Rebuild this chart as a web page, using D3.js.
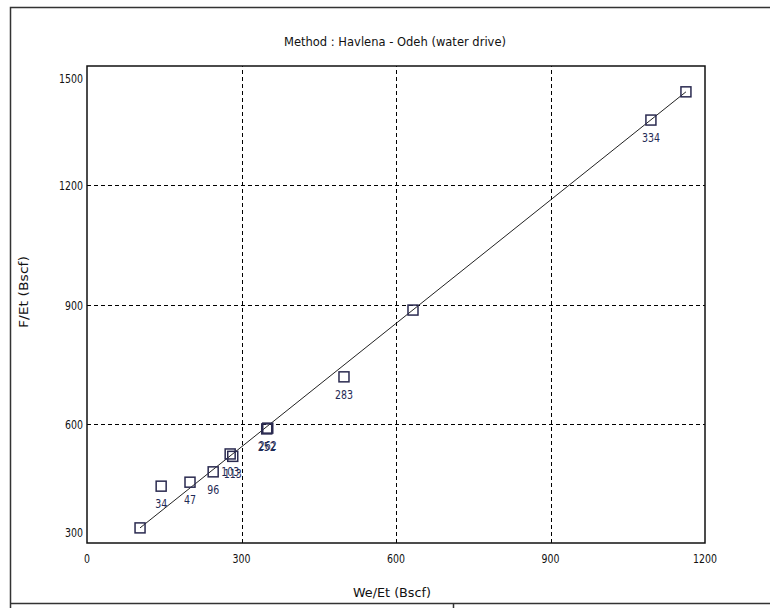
<!DOCTYPE html>
<html>
<head>
<meta charset="utf-8">
<script src="https://cdn.jsdelivr.net/npm/d3@7"></script>
<style>
  body { margin: 0; background: #fff; }
  svg { display: block; }
  text { font-family: "DejaVu Sans", sans-serif; font-size: 13px; fill: #111; }
</style>
</head>
<body>
<svg width="770" height="608"></svg>
<script>
// values (We/Et, F/Et in Bscf)
var xVals = [103, 144, 200, 245, 278, 283, 349, 351, 499, 633, 1095, 1163];
var yVals = [338, 443, 453, 479, 524, 518, 587, 589, 718, 886, 1364, 1435];
var pointLabels = ['', '34', '47', '96', '103', '113', '252', '262', '283', '', '334', ''];

// straight line through the points
var fitX = [103, 1163];
var fitY = [338, 1435];

var xTicks = [0, 300, 600, 900, 1200];
var yTicks = [300, 600, 900, 1200, 1500];

var title = 'Method : Havlena - Odeh (water drive)';
var xTitle = 'We/Et  (Bscf)';
var yTitle = 'F/Et  (Bscf)';

var plot = {left: 87, right: 705, top: 66, bottom: 543};
var charW = 6; // the old screen font is about 6px a character

var svg = d3.select('svg');

var x = d3.scaleLinear().domain([0, 1200]).range([plot.left, plot.right]);
var y = d3.scaleLinear().domain([300, 1500]).range([plot.bottom, plot.top]);

function narrow(sel) {
	sel.attr('textLength', function() { return this.textContent.length * charW; })
		.attr('lengthAdjust', 'spacingAndGlyphs');
}

// outer window frame
svg.append('path')
	.attr('d', 'M10.5,608 V7.5 H770')
	.attr('fill', 'none').attr('stroke', '#333').attr('stroke-width', 1.5);
svg.append('path')
	.attr('d', 'M10,603.5 H770 M453.5,603 V608')
	.attr('fill', 'none').attr('stroke', '#333').attr('stroke-width', 1.5);

// title
svg.append('text')
	.attr('x', 395).attr('y', 46)
	.attr('text-anchor', 'middle')
	.text(title)
	.call(narrow);

// grid
var grid = svg.append('g')
	.attr('stroke', '#000').attr('stroke-width', 1).attr('stroke-dasharray', '4,3');
grid.selectAll('line.gx')
	.data(xTicks.slice(1, -1))
	.enter().append('line')
	.attr('x1', function(d) { return Math.round(x(d)) + 0.5; })
	.attr('x2', function(d) { return Math.round(x(d)) + 0.5; })
	.attr('y1', plot.bottom).attr('y2', plot.top);
grid.selectAll('line.gy')
	.data(yTicks.slice(1, -1))
	.enter().append('line')
	.attr('y1', function(d) { return Math.round(y(d)) + 0.5; })
	.attr('y2', function(d) { return Math.round(y(d)) + 0.5; })
	.attr('x1', plot.left).attr('x2', plot.right);

// plot frame
svg.append('rect')
	.attr('x', plot.left).attr('y', plot.top)
	.attr('width', plot.right - plot.left).attr('height', plot.bottom - plot.top)
	.attr('fill', 'none').attr('stroke', '#111').attr('stroke-width', 1.5);

// tick labels
svg.selectAll('text.xt')
	.data(xTicks)
	.enter().append('text')
	.attr('class', 'xt')
	.attr('x', function(d) { return x(d); })
	.attr('y', plot.bottom + 20)
	.attr('text-anchor', 'middle')
	.text(function(d) { return d; })
	.call(narrow);

// end labels are pushed inside the axis like the old chart does
svg.selectAll('text.yt')
	.data(yTicks)
	.enter().append('text')
	.attr('class', 'yt')
	.attr('x', plot.left - 4)
	.attr('y', function(d) {
		var cy = Math.max(plot.top + 12, Math.min(plot.bottom - 11, y(d)));
		return cy + 5;
	})
	.attr('text-anchor', 'end')
	.text(function(d) { return d; })
	.call(narrow);

// axis titles
svg.append('text')
	.attr('x', 392).attr('y', 597)
	.attr('text-anchor', 'middle')
	.text(xTitle)
	.call(narrow);
svg.append('text')
	.attr('transform', 'translate(28,292) rotate(-90)')
	.attr('text-anchor', 'middle')
	.text(yTitle)
	.call(narrow);

// fitted line
svg.append('line')
	.attr('x1', x(fitX[0])).attr('y1', y(fitY[0]))
	.attr('x2', x(fitX[1])).attr('y2', y(fitY[1]))
	.attr('stroke', '#222').attr('stroke-width', 1);

var points = xVals.map(function(v, i) { return {x: v, y: yVals[i], label: pointLabels[i]}; });

svg.selectAll('rect.pt')
	.data(points)
	.enter().append('rect')
	.attr('class', 'pt')
	.attr('x', function(d) { return x(d.x) - 5; })
	.attr('y', function(d) { return y(d.y) - 5; })
	.attr('width', 10).attr('height', 10)
	.attr('fill', 'none')
	.attr('stroke', '#2a2a50').attr('stroke-width', 1.5);

svg.selectAll('text.pl')
	.data(points.filter(function(d) { return d.label; }))
	.enter().append('text')
	.attr('class', 'pl')
	.attr('x', function(d) { return x(d.x); })
	.attr('y', function(d) { return y(d.y) + 22; })
	.attr('text-anchor', 'middle')
	.style('fill', '#1f2a55')
	.text(function(d) { return d.label; })
	.call(narrow);
</script>
</body>
</html>
